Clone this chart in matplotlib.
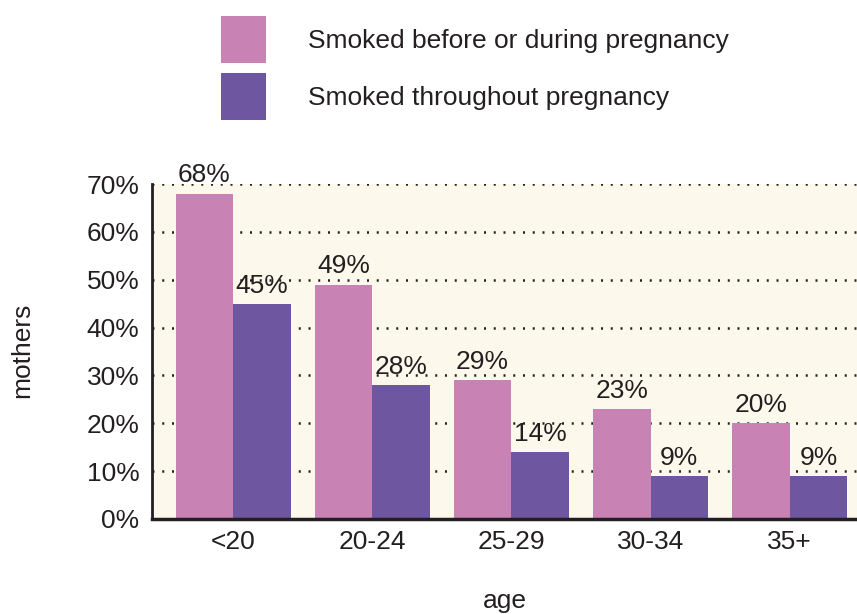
import matplotlib
matplotlib.use("Agg")
import matplotlib.pyplot as plt
import numpy as np

# Data
ages = ["<20", "20-24", "25-29", "30-34", "35+"]
before_or_during = [68, 49, 29, 23, 20]
throughout = [45, 28, 14, 9, 9]
series_names = ["Smoked before or during pregnancy", "Smoked throughout pregnancy"]

PINK = "#C883B4"
PURPLE = "#6E56A0"
INK = "#231F20"
BG = "#FCF9EC"
FS = 19

plt.rcParams["font.family"] = ["Liberation Sans", "DejaVu Sans"]
plt.rcParams["text.color"] = INK

fig = plt.figure(figsize=(8.57, 6.14), dpi=100)
ax = fig.add_axes([152 / 857, 1 - 519 / 614, 1 - 152 / 857 + 0.001, (519 - 184) / 614])
ax.set_facecolor(BG)

x = np.arange(len(ages))
w = 0.414
b1 = ax.bar(x - w / 2, before_or_during, w, color=PINK, zorder=3, label=series_names[0])
b2 = ax.bar(x + w / 2, throughout, w, color=PURPLE, zorder=3, label=series_names[1])

# value labels, baseline a little above each bar
for bars, vals in ((b1, before_or_during), (b2, throughout)):
    for rect, v in zip(bars, vals):
        ax.annotate(f"{v}%", (rect.get_x() + rect.get_width() / 2, v),
                    xytext=(0, 8), textcoords="offset points",
                    ha="center", va="baseline", fontsize=FS, color=INK, zorder=4)

ax.set_xlim(-0.583, 4.49)
ax.set_ylim(0, 70)
ax.set_yticks(range(0, 71, 10))
ax.set_yticklabels([f"{t}%" for t in range(0, 71, 10)])
ax.set_xticks(x)
ax.set_xticklabels(ages)
ax.tick_params(axis="both", length=0, labelsize=FS, colors=INK)
ax.tick_params(axis="y", pad=9)
ax.tick_params(axis="x", pad=8)

for t in range(10, 71, 10):
    ax.axhline(t, color=INK, lw=1.8, linestyle=(0, (0.8, 3.1)), zorder=1)

for s in ("top", "right"):
    ax.spines[s].set_visible(False)
ax.spines["left"].set_linewidth(2)
ax.spines["bottom"].set_linewidth(2.5)
ax.spines["left"].set_color(INK)
ax.spines["bottom"].set_color(INK)
ax.spines["left"].set_zorder(5)
ax.spines["bottom"].set_zorder(5)

fig.text(22 / 857, 1 - 350 / 614, "mothers", rotation=90, ha="center", va="center",
         fontsize=FS, color=INK)
fig.text(505 / 857, 1 - 601 / 614, "age", ha="center", va="center", fontsize=FS, color=INK)

fig.legend(handles=[b1, b2], labels=series_names, loc="upper left",
           bbox_to_anchor=(221 / 857, 1 - 16 / 614), frameon=False,
           fontsize=FS, handlelength=1.70, handleheight=2.36, labelspacing=0.38,
           handletextpad=1.59, borderpad=0, borderaxespad=0)

fig.savefig("out.png", dpi=100)
